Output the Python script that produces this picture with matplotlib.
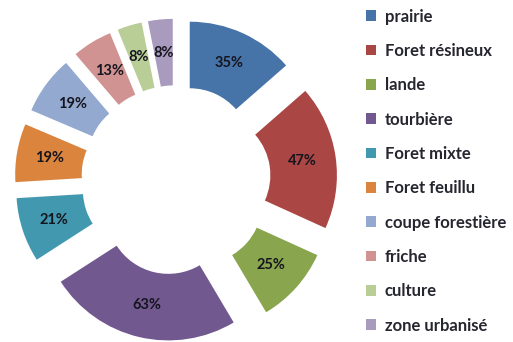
import matplotlib.pyplot as plt
from matplotlib.patches import Patch

# land use categories and their counts (labels show the raw value)
categories = ["prairie", "Foret résineux", "lande", "tourbière", "Foret mixte",
              "Foret feuillu", "coupe forestière", "friche", "culture", "zone urbanisé"]
values = [35, 47, 25, 63, 21, 19, 19, 13, 8, 8]
colors = ["#4673A8", "#AA4644", "#89A54E", "#71588F", "#4298AF",
          "#DB843D", "#93A9CF", "#D19392", "#B9CD96", "#A99BBD"]

total = sum(values)

fig = plt.figure(figsize=(5.13, 3.42), dpi=100)
ax = fig.add_axes([0.0062, -0.0316, 0.6737, 1.0105])

wedges, texts, autotexts = ax.pie(
    values,
    colors=colors,
    startangle=90,
    counterclock=False,
    explode=[0.26] * len(values),
    wedgeprops=dict(width=0.52, linewidth=0),
    autopct=lambda p: f"{round(p * total / 100)}%",
    pctdistance=0.74,
    textprops=dict(fontsize=10.5, color="#15151f", family="Lato", weight="bold"),
)
ax.set_xlim(-1.35, 1.35)
ax.set_ylim(-1.35, 1.35)
ax.set_aspect("equal")
ax.axis("off")

# legend as a single column on the right
handles = [Patch(facecolor=c, edgecolor="none") for c in colors]
leg = fig.legend(
    handles, categories,
    loc="upper left", bbox_to_anchor=(0.688, 1.014),
    frameon=False, handlelength=0.6, handleheight=0.6, handletextpad=0.5,
    labelspacing=1.1, borderpad=0.3,
    prop=dict(family="Lato", weight="bold", size=12),
)
for t in leg.get_texts():
    t.set_color("#262630")

fig.savefig("out.png", dpi=100)
